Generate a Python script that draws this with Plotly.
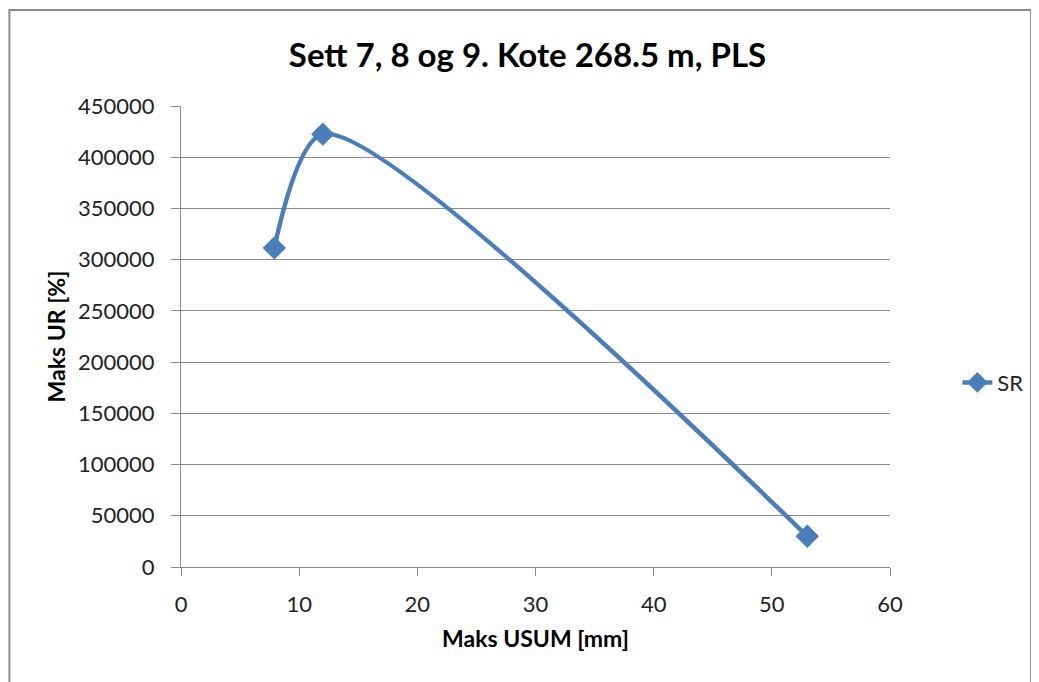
import plotly.graph_objects as go

# data
usum_mm = [7.9, 12, 53]
ur_pct = [311500, 422500, 30000]
series_name = "SR"

x_ticks = [0, 10, 20, 30, 40, 50, 60]
y_ticks = [0, 50000, 100000, 150000, 200000, 250000, 300000, 350000, 400000, 450000]

blue = "#4A7EBB"
grid = "#8c8c8c"
font = "Lato, Carlito, Calibri, sans-serif"

fig = go.Figure()
fig.add_trace(go.Scatter(
    x=usum_mm, y=ur_pct, name=series_name,
    mode="lines+markers",
    line=dict(color=blue, width=4.5, shape="spline", smoothing=0.75),
    marker=dict(symbol="diamond", size=18, color=blue),
))

# page body has an 8px margin, so margins are shifted by 8
fig.update_layout(
    width=1039, height=682,
    paper_bgcolor="white", plot_bgcolor="white",
    margin=dict(l=173, r=157, t=98, b=123),
    font=dict(family=font, size=22, color="#222"),
    title=dict(text="<b>Sett 7, 8 og 9. Kote 268.5 m, PLS</b>",
               x=0.5, xanchor="center", y=1 - 47 / 682, yanchor="middle",
               font=dict(size=33, color="#000")),
    showlegend=True,
    legend=dict(x=1.095, y=0.40, xanchor="left", yanchor="middle",
                font=dict(size=22), bgcolor="rgba(0,0,0,0)"),
    shapes=[dict(type="rect", xref="paper", yref="paper",
                 x0=-0.242, x1=1.199, y0=-0.3, y1=1.208,
                 line=dict(color="#8a8a8a", width=2))],
)

fig.update_xaxes(
    range=[0, 60], tickvals=x_ticks, ticktext=[str(v) for v in x_ticks],
    showgrid=False,
    showline=True, linecolor=grid, linewidth=1,
    ticks="outside", ticklen=8, tickcolor=grid, ticklabelstandoff=10,
    zeroline=False,
    title=dict(text="<b>Maks USUM [mm]</b>", font=dict(size=23, color="#000"), standoff=14),
)
fig.update_yaxes(
    range=[0, 450000], tickvals=y_ticks, ticktext=[str(v) for v in y_ticks],
    showgrid=True, gridcolor=grid, gridwidth=1,
    showline=True, linecolor=grid, linewidth=1,
    ticks="outside", ticklen=9, tickcolor=grid, ticklabelstandoff=12,
    zeroline=False,
    title=dict(text="<b>Maks UR [%]</b>", font=dict(size=23, color="#000"), standoff=5),
)

fig.write_html("out.html")
